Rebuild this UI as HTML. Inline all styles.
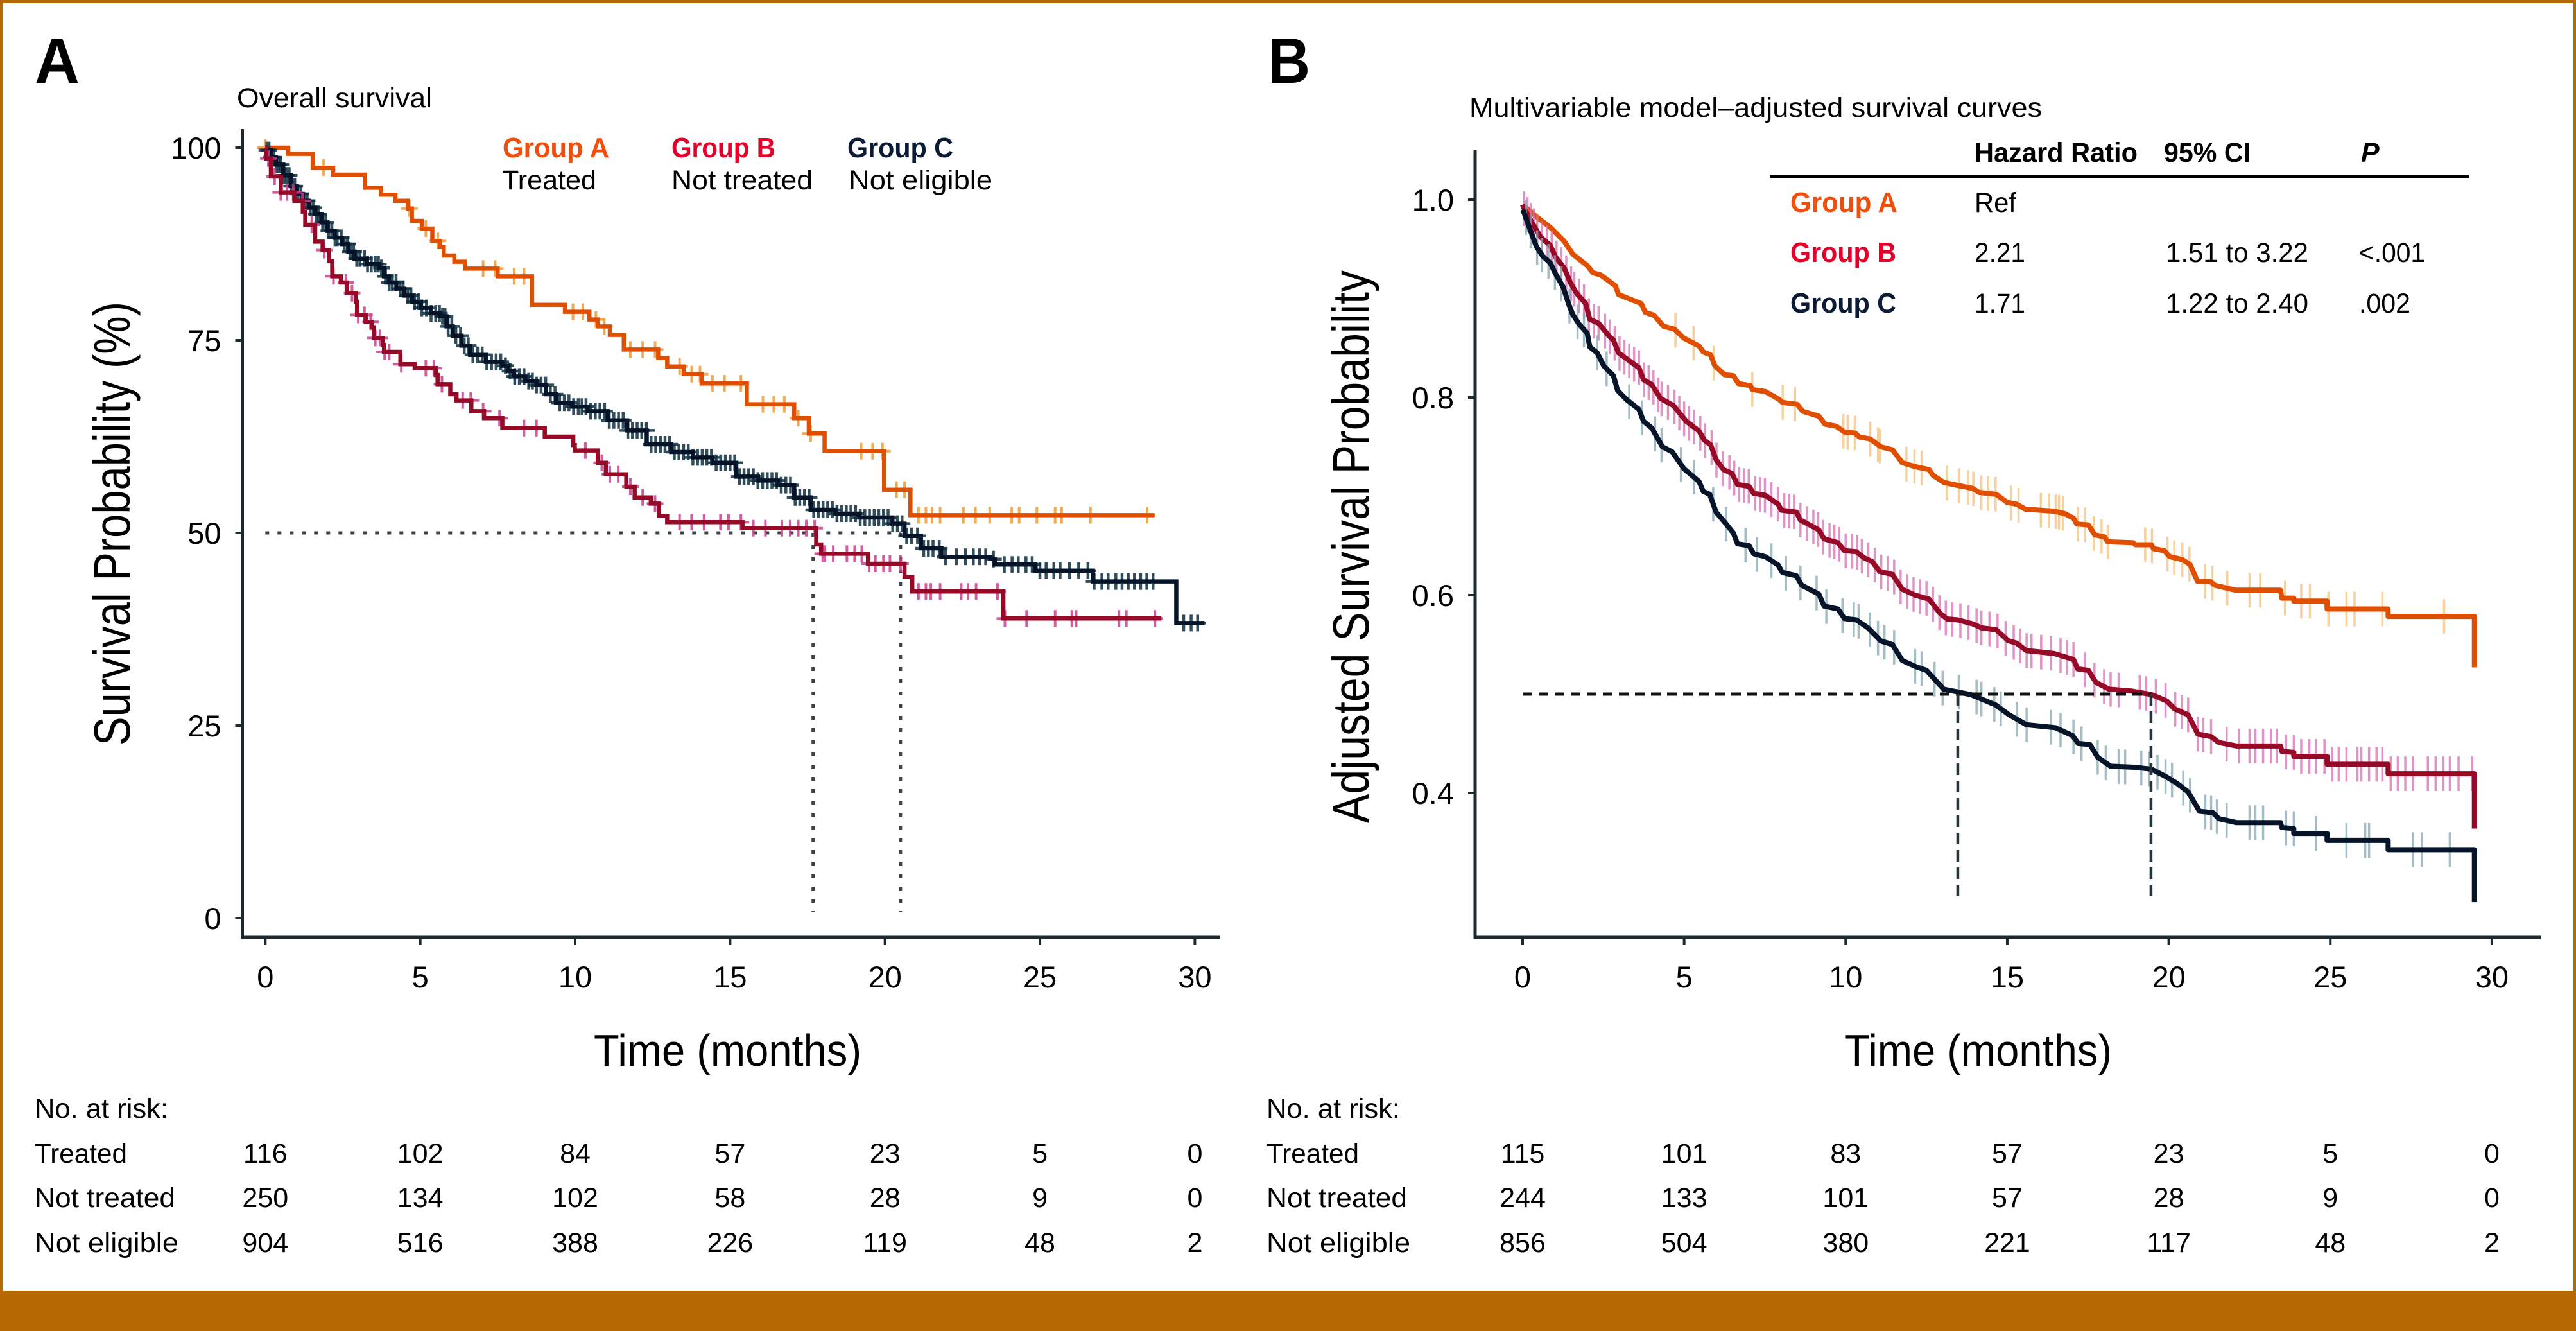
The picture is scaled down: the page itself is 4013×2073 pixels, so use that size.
<!DOCTYPE html>
<html lang="en">
<head>
<meta charset="utf-8">
<title>Survival curves</title>
<style>
html,body{margin:0;padding:0;background:#fff;}
svg{display:block;}
text{font-family:"Liberation Sans",sans-serif;fill:#000;}
.b{font-weight:bold;}
.s{font-size:43px;}
.g{font-size:44px;font-weight:bold;}
</style>
</head>
<body>
<svg id="figure" xmlns="http://www.w3.org/2000/svg" width="4013" height="2073" viewBox="0 0 4013 2073">
<rect x="0" y="0" width="4013" height="2073" fill="#b46a00"/>
<rect x="4" y="5" width="4005" height="2005" fill="#ffffff"/>

<text class="b" x="54" y="129" font-size="100" textLength="70" lengthAdjust="spacingAndGlyphs">A</text>
<text class="b" x="1975" y="129" font-size="100" textLength="66" lengthAdjust="spacingAndGlyphs">B</text>

<text class="s" x="369" y="167" textLength="304" lengthAdjust="spacingAndGlyphs">Overall survival</text>
<text class="s" x="2289" y="182" textLength="892" lengthAdjust="spacingAndGlyphs">Multivariable model–adjusted survival curves</text>

<text class="g" x="783" y="245" fill="#f04e0a" style="fill:#f04e0a" textLength="166" lengthAdjust="spacingAndGlyphs">Group A</text>
<text class="s" x="782" y="295" textLength="147" lengthAdjust="spacingAndGlyphs">Treated</text>
<text class="g" x="1046" y="245" style="fill:#e4002b" textLength="162" lengthAdjust="spacingAndGlyphs">Group B</text>
<text class="s" x="1046" y="295" textLength="220" lengthAdjust="spacingAndGlyphs">Not treated</text>
<text class="g" x="1320" y="245" style="fill:#0b1a35" textLength="165" lengthAdjust="spacingAndGlyphs">Group C</text>
<text class="s" x="1322" y="295" textLength="224" lengthAdjust="spacingAndGlyphs">Not eligible</text>

<text font-size="80" transform="translate(202,1161) rotate(-90)" textLength="691" lengthAdjust="spacingAndGlyphs">Survival Probability (%)</text>
<text font-size="80" transform="translate(2132,1282) rotate(-90)" textLength="861" lengthAdjust="spacingAndGlyphs">Adjusted Survival Probability</text>
<text font-size="70" x="925" y="1660" textLength="417" lengthAdjust="spacingAndGlyphs">Time (months)</text>
<text font-size="70" x="2873" y="1660" textLength="417" lengthAdjust="spacingAndGlyphs">Time (months)</text>

<text class="s b" x="3076" y="252" textLength="254" lengthAdjust="spacingAndGlyphs">Hazard Ratio</text>
<text class="s b" x="3371" y="252" textLength="135" lengthAdjust="spacingAndGlyphs">95% CI</text>
<text class="s b" font-style="italic" x="3678" y="252">P</text>
<rect x="2757" y="272.5" width="1089" height="5" fill="#000"/>
<text class="g" x="2789" y="330" style="fill:#f04e0a" textLength="167" lengthAdjust="spacingAndGlyphs">Group A</text>
<text class="s" x="3076" y="330" textLength="65" lengthAdjust="spacingAndGlyphs">Ref</text>
<text class="g" x="2789" y="408" style="fill:#e4002b" textLength="165" lengthAdjust="spacingAndGlyphs">Group B</text>
<text class="s" x="3076" y="408" textLength="79" lengthAdjust="spacingAndGlyphs">2.21</text>
<text class="s" x="3374" y="408" textLength="222" lengthAdjust="spacingAndGlyphs">1.51 to 3.22</text>
<text class="s" x="3675" y="408" textLength="103" lengthAdjust="spacingAndGlyphs">&lt;.001</text>
<text class="g" x="2789" y="487" style="fill:#0b1a35" textLength="165" lengthAdjust="spacingAndGlyphs">Group C</text>
<text class="s" x="3076" y="487" textLength="79" lengthAdjust="spacingAndGlyphs">1.71</text>
<text class="s" x="3374" y="487" textLength="222" lengthAdjust="spacingAndGlyphs">1.22 to 2.40</text>
<text class="s" x="3675" y="487" textLength="80" lengthAdjust="spacingAndGlyphs">.002</text>

<text class="s" x="54" y="1741" textLength="208" lengthAdjust="spacingAndGlyphs">No. at risk:</text>
<text class="s" x="54" y="1811" textLength="144" lengthAdjust="spacingAndGlyphs">Treated</text>
<text class="s" x="54" y="1880" textLength="219" lengthAdjust="spacingAndGlyphs">Not treated</text>
<text class="s" x="54" y="1950" textLength="224" lengthAdjust="spacingAndGlyphs">Not eligible</text>
<text class="s" x="1973" y="1741" textLength="208" lengthAdjust="spacingAndGlyphs">No. at risk:</text>
<text class="s" x="1973" y="1811" textLength="144" lengthAdjust="spacingAndGlyphs">Treated</text>
<text class="s" x="1973" y="1880" textLength="219" lengthAdjust="spacingAndGlyphs">Not treated</text>
<text class="s" x="1973" y="1950" textLength="224" lengthAdjust="spacingAndGlyphs">Not eligible</text>

<g id="chart-a"></g>
<g id="chart-b"></g>
</svg>

<script>
// ---------- shared categories ----------
const timeTicks = [0, 5, 10, 15, 20, 25, 30];
const survivalTicks = [0, 25, 50, 75, 100];
const adjustedTicks = [0.4, 0.6, 0.8, 1.0];

// ---------- panel A: Kaplan-Meier steps (month, survival %) ----------
const kmTimesA = [0.74,1.53,2.19,3.22,3.73,4.2,4.6,4.73,5.05,5.39,5.63,5.76,6.1,6.45,7.5,8.61,9.67,10.46,10.73,11.12,11.57,12.68,12.97,13.5,14.08,15.54,17.07,17.54,18.05,19.97,20.82];
const kmSurvA = [99.2,97.4,96.5,94.8,93.9,93.1,92.1,90.5,89.5,87.9,87.1,86.0,85.2,84.3,83.3,79.6,78.7,77.7,76.8,75.7,73.8,72.7,71.6,70.6,69.4,66.7,64.9,62.9,60.6,55.6,52.3];
const kmEndA = 28.7;
const kmCensorA = [0,1.88,4.65,5.18,5.57,7.03,7.42,8.03,8.35,9.93,10.25,10.67,10.94,11.78,12.18,12.58,13.37,13.76,14.03,14.43,14.82,15.35,16.06,16.41,16.75,17.2,17.6,19.23,19.6,19.92,20.37,20.63,21.08,21.32,21.52,21.78,22.53,22.92,23.38,24.09,24.33,24.9,25.49,25.7,26.63,28.46];

const kmTimesB = [0.02,0.18,0.5,0.94,1.21,1.29,1.61,1.85,2.05,2.16,2.44,2.64,2.92,2.96,3.24,3.43,3.51,3.79,3.83,4.36,4.82,5.5,5.56,5.97,6.17,6.65,7.06,7.65,9.02,9.94,9.99,10.73,10.99,11.65,11.92,12.44,12.71,12.97,15.4,17.78,17.94,19.45,20.63,20.88,23.82];
const kmSurvB = [98.6,96.25,94.2,93.1,91.7,90,87.8,86.7,85.3,83.3,82.5,81.1,80,78.3,77.4,76.7,75.3,74.4,73.5,71.9,71.4,70.5,69.3,68,67.2,65.8,64.9,63.6,62.5,61.4,60.7,59.1,57.6,56,54.6,53.8,52.2,51.4,50.6,48.5,47.3,46,44.3,42.4,38.9];
const kmEndB = 28.92;
const kmCensorB = [0.1,0.3,0.5,0.7,0.9,1.2,1.5,1.9,2.2,2.6,2.8,3.0,3.2,3.4,3.55,3.7,3.85,4.0,4.39,5.18,5.44,5.7,6.37,6.63,7.03,7.56,8.35,8.75,10.33,10.86,11.12,11.39,11.78,12.18,12.58,13.37,13.76,14.16,14.69,14.95,15.35,15.75,16.14,16.67,16.94,17.2,17.46,17.73,17.99,18.06,18.33,18.77,19.02,19.25,19.49,19.69,19.95,20.16,20.5,21.08,21.32,21.48,21.78,22.46,22.68,22.94,23.63,23.87,24.57,25.49,26.03,26.17,27.55,27.79,28.71];

const kmTimesC = [0.02,0.18,0.34,0.58,0.82,1.02,1.21,1.41,1.61,1.81,2.01,2.24,2.48,2.68,2.88,3.28,3.67,3.83,3.99,4.23,4.47,4.74,5.02,5.34,5.65,5.85,6.05,6.33,6.61,7.12,7.64,7.83,8.03,8.39,8.75,9.06,9.38,9.9,10.41,11.05,11.68,12.31,13.1,13.8,14.43,15.2,15.9,16.54,17.07,17.6,18.4,19.18,20.24,20.63,21.16,21.82,23.4,23.54,24.86,26.71,29.4];
const kmSurvC = [99.7,98.75,97.8,96.4,95,94,93.1,92.2,91.4,90.3,89.2,88.3,87.5,86.5,85.6,84.9,84.4,83.3,82.5,81.7,80.8,80,79.2,78.5,78.1,76.8,75.6,74.3,73.1,72.2,71.7,71,70.3,69.7,69.2,68,66.9,66.4,65.8,64.6,63.3,61.5,60.5,59.8,59.1,57.3,56.8,56.2,54.6,53,52.5,52,51.2,49.6,48,46.9,46.6,45.9,45.1,43.7,38.3];
const kmEndC = 30.31;
const kmCensorC = [0.05,0.12,0.2,0.28,0.35,0.43,0.5,0.6,0.68,0.77,0.85,0.95,1.05,1.15,1.25,1.35,1.45,1.55,1.65,1.72,1.85,1.95,2.05,2.15,2.25,2.32,2.45,2.55,2.65,2.75,2.85,2.95,3.05,3.2,3.3,3.42,3.55,3.65,3.75,3.88,4.0,4.1,4.22,4.35,4.45,4.6,4.7,4.82,4.95,5.05,5.2,5.35,5.5,5.62,5.72,5.8,5.9,6.02,6.15,6.3,6.42,6.55,6.7,6.85,7.0,7.15,7.3,7.45,7.6,7.75,7.9,8.05,8.2,8.35,8.5,8.62,8.75,8.9,9.05,9.2,9.35,9.5,9.65,9.8,9.95,10.1,10.22,10.35,10.5,10.65,10.8,10.95,11.1,11.25,11.4,11.55,11.7,11.85,12.0,12.15,12.3,12.45,12.6,12.75,12.9,13.05,13.2,13.35,13.5,13.65,13.8,13.95,14.1,14.25,14.4,14.55,14.7,14.85,15.0,15.15,15.3,15.45,15.6,15.75,15.9,16.05,16.2,16.35,16.5,16.65,16.8,16.95,17.1,17.25,17.4,17.55,17.7,17.85,18.0,18.15,18.3,18.45,18.6,18.75,18.9,19.05,19.2,19.35,19.5,19.65,19.8,19.95,20.1,20.25,20.4,20.55,20.7,20.85,21.05,21.25,21.4,21.55,21.75,21.95,22.3,22.6,22.85,23.05,23.25,23.5,23.85,24.1,24.3,24.55,24.75,25.0,25.2,25.45,25.65,25.95,26.25,26.55,26.75,27.0,27.2,27.45,27.65,27.85,28.05,28.25,28.45,28.65,29.64,29.88,30.09];

const medianRefA = 50;
const medianTimesA = [17.68, 20.5];

// ---------- panel B: adjusted curves (month, probability) ----------
const adjTimesA = [0,0.42,0.89,1.285,1.55,2.01,2.18,2.41,2.87,2.97,3.67,3.8,4.07,4.36,4.7,4.99,5.46,5.59,5.82,5.95,6.25,6.52,6.68,7.05,7.11,7.51,7.94,8.04,8.5,8.67,9.17,9.36,9.7,9.96,10.29,10.42,10.76,11.09,11.45,11.75,12.15,12.58,12.71,13.04,13.47,13.93,14.13,14.66,14.99,15.29,15.56,16.45,16.78,17.05,17.15,17.51,17.71,18.01,18.11,18.9,18.97,19.46,19.53,19.86,20.03,20.42,20.66,20.89,21.28,21.43,22.07,23.46,23.5,23.87,23.87,24.9,24.9,26.79,26.79,29.46,29.46];
const adjProbA = [0.995,0.983,0.971,0.958,0.945,0.933,0.926,0.924,0.913,0.904,0.895,0.886,0.883,0.872,0.869,0.860,0.852,0.846,0.843,0.832,0.823,0.822,0.814,0.812,0.808,0.806,0.798,0.795,0.793,0.786,0.781,0.773,0.771,0.765,0.764,0.760,0.758,0.750,0.747,0.734,0.730,0.727,0.721,0.714,0.711,0.708,0.704,0.702,0.694,0.692,0.687,0.685,0.6825,0.678,0.672,0.671,0.661,0.659,0.654,0.653,0.651,0.651,0.647,0.645,0.639,0.636,0.631,0.614,0.614,0.610,0.605,0.605,0.597,0.597,0.594,0.594,0.586,0.586,0.5785,0.5785,0.527];
const adjCensorA = [4.73,5.29,5.92,7.11,8.05,8.43,9.93,10.06,10.28,10.76,11.0,11.06,11.88,12.13,12.35,13.14,13.5,13.79,13.95,14.2,14.41,14.64,15.11,15.35,16.04,16.29,16.5,16.6,16.73,17.19,17.41,17.68,17.92,18.11,19.27,19.48,19.96,20.17,20.42,20.64,21.12,21.35,21.81,22.5,22.83,23.6,24.1,24.37,24.94,25.5,25.75,26.61,28.52];

const adjTimesB = [0,0.03,0.29,0.56,0.85,1.02,1.285,1.48,1.68,1.95,2.08,2.35,2.68,2.81,2.97,3.6,3.74,4.0,4.27,4.66,5.06,5.46,5.62,5.82,5.99,6.22,6.48,6.65,7.01,7.15,7.51,7.91,8.01,8.47,8.6,9.17,9.33,9.76,9.96,10.33,10.56,10.82,11.05,11.45,11.75,12.15,12.58,12.91,13.14,13.47,13.93,14.2,14.66,15.03,15.29,15.59,16.45,17.05,17.18,17.51,17.74,18.15,18.87,19.47,19.94,20.18,20.6,20.9,21.31,21.55,22.09,23.46,23.5,23.87,23.87,24.9,24.9,26.79,26.79,29.46,29.46];
const adjProbB = [0.995,0.992,0.977,0.962,0.954,0.942,0.931,0.916,0.905,0.895,0.879,0.875,0.862,0.858,0.845,0.830,0.818,0.813,0.799,0.792,0.776,0.766,0.757,0.752,0.737,0.727,0.723,0.712,0.710,0.703,0.701,0.692,0.686,0.684,0.676,0.666,0.657,0.653,0.645,0.644,0.638,0.634,0.624,0.621,0.606,0.600,0.596,0.582,0.576,0.575,0.571,0.567,0.565,0.554,0.5515,0.544,0.541,0.535,0.5255,0.524,0.512,0.505,0.503,0.4995,0.493,0.485,0.479,0.4595,0.457,0.451,0.4475,0.4475,0.442,0.441,0.437,0.437,0.429,0.429,0.4194,0.4194,0.364];
const adjCensorB = [0.05,0.15,0.25,0.35,0.45,0.6,0.75,0.9,1.05,1.2,1.35,1.5,1.6,1.75,1.9,2.05,2.2,2.35,2.55,2.7,2.85,3.0,3.15,3.3,3.45,3.6,3.75,3.9,4.05,4.2,4.3,4.5,4.7,4.85,5.0,5.15,5.3,5.5,5.65,5.85,6.0,6.2,6.4,6.55,6.7,6.85,7.0,7.2,7.35,7.5,7.7,7.9,8.1,8.25,8.4,8.6,8.8,9.0,9.15,9.3,9.5,9.65,9.8,10.0,10.2,10.35,10.5,10.7,10.9,11.1,11.3,11.5,11.7,11.9,12.1,12.3,12.5,12.7,12.9,13.1,13.3,13.55,13.8,14.05,14.2,14.45,14.7,14.95,15.2,15.4,15.6,15.75,16.05,16.35,16.65,16.85,17.05,17.4,17.7,18.0,18.2,18.45,19.1,19.3,19.6,19.9,20.2,20.4,20.6,20.9,21.07,21.31,21.79,22.18,22.5,22.68,22.92,23.16,23.34,23.63,23.87,24.1,24.35,24.56,24.82,25.06,25.26,25.5,25.84,25.96,26.2,26.43,26.61,26.87,27.09,27.32,27.56,28.02,28.26,28.5,28.7,28.97,29.39];
const adjMedianRef = 0.5;
const adjMedianTimes = [13.47, 19.45];

const adjTimesC = [0,0.03,0.23,0.42,0.62,0.855,1.02,1.25,1.42,1.55,1.75,2.0,2.08,2.31,2.51,2.81,2.94,3.21,3.6,3.74,4.0,4.33,4.63,4.99,5.46,5.59,5.79,5.99,6.3,6.52,6.65,7.01,7.15,7.51,7.91,8.04,8.47,8.64,9.17,9.33,9.76,9.96,10.33,10.69,11.09,11.45,11.75,12.15,12.5,13.03,13.87,14.64,15.06,15.59,16.49,17.02,17.2,17.56,17.8,18.2,18.93,19.47,19.94,20.24,20.6,20.95,21.37,21.55,22.09,23.46,23.5,23.87,23.87,24.9,24.9,26.79,26.79,29.46,29.46];
const adjProbC = [0.99,0.988,0.970,0.953,0.943,0.936,0.925,0.912,0.895,0.884,0.874,0.865,0.851,0.845,0.832,0.822,0.807,0.798,0.788,0.776,0.769,0.750,0.745,0.728,0.715,0.705,0.702,0.684,0.672,0.663,0.652,0.650,0.642,0.639,0.6305,0.623,0.6197,0.610,0.601,0.589,0.586,0.5764,0.575,0.567,0.5537,0.550,0.534,0.528,0.524,0.505,0.4995,0.489,0.479,0.469,0.466,0.458,0.450,0.449,0.436,0.427,0.426,0.424,0.416,0.410,0.401,0.3815,0.380,0.374,0.370,0.370,0.365,0.364,0.359,0.359,0.352,0.352,0.3426,0.3426,0.2895];
const adjCensorC = [0.1,0.25,0.45,0.6,0.8,1.0,1.2,1.45,1.7,1.9,2.3,2.6,3.3,3.7,4.1,4.3,4.9,5.3,5.9,6.3,6.9,7.25,7.7,8.15,8.6,9.1,9.4,9.9,10.25,10.4,10.75,11.0,11.2,11.5,12.15,12.35,12.75,13.0,13.5,14.05,14.2,14.6,14.8,15.3,15.6,16.35,16.65,17.05,17.3,17.8,18.05,18.45,18.65,19.15,19.4,19.65,19.9,20.1,20.45,20.66,21.13,21.31,21.49,21.79,22.5,22.68,22.92,23.63,23.87,24.56,25.5,26.08,26.2,27.56,27.83,28.7];

// ---------- at-risk tables ----------
const riskATreated = [116,102,84,57,23,5,0];
const riskANotTreated = [250,134,102,58,28,9,0];
const riskANotEligible = [904,516,388,226,119,48,2];
const riskBTreated = [115,101,83,57,23,5,0];
const riskBNotTreated = [244,133,101,57,28,9,0];
const riskBNotEligible = [856,504,380,221,117,48,2];

// ---------- axis functions ----------
const xA = t => 413.3 + 48.27 * t;
const yA = v => 1430 - 12 * v;
const xB = t => 2372 + 50.33 * t;
const yB = v => 311 + (1 - v) * 1540;

const NS = 'http://www.w3.org/2000/svg';
function mk(parent, tag, attrs, txt) {
  const el = document.createElementNS(NS, tag);
  for (const k in attrs) el.setAttribute(k, attrs[k]);
  if (txt !== undefined) el.textContent = txt;
  parent.appendChild(el);
  return el;
}
const chartA = document.getElementById('chart-a');
const chartB = document.getElementById('chart-b');
const AXIS = '#1c2a30';

function drawAxes(g, x, y, xt, yt, left, top, bottom, right, prefix, fmt) {
  let el = mk(g, 'rect', {x: left - 2.5, y: top, width: 5, height: bottom - top + 2.5, fill: AXIS});
  
  
  el = mk(g, 'rect', {x: left - 2.5, y: bottom - 2.5, width: right - left + 2.5, height: 5, fill: AXIS});
  
  
  xt.forEach(t => {
    let m = mk(g, 'rect', {x: x(t) - 2, y: bottom, width: 4, height: 12, fill: AXIS});
    
    
    let l = mk(g, 'text', {x: x(t), y: 1538, 'font-size': 47, 'text-anchor': 'middle'}, String(t));
    
    
  });
  yt.forEach(v => {
    let m = mk(g, 'rect', {x: left - 11, y: y(v) - 2, width: 11, height: 4, fill: AXIS});
    
    
    let l = mk(g, 'text', {x: left - 33, y: y(v) + 17, 'font-size': 47, 'text-anchor': 'end'}, fmt(v));
    
    
  });
}

function stepValue(times, vals, start, t) {
  let v = start;
  for (let i = 0; i < times.length; i++) { if (times[i] <= t) v = vals[i]; else break; }
  return v;
}
function drawKM(times, vals, end, censors, color, tickColor, tickWidth, name) {
  const grp = mk(chartA, 'g', {});
  
  
  let d = 'M' + xA(0) + ' ' + yA(100);
  times.forEach((t, i) => { d += 'H' + xA(t) + 'V' + yA(vals[i]); });
  d += 'H' + xA(end);
  censors.forEach(t => {
    const v = stepValue(times, vals, 100, t);
    const cx = xA(t), cy = yA(v);
    const c = mk(grp, 'path', {d: 'M' + cx + ' ' + (cy - 13) + 'V' + (cy + 13) + 'M' + (cx - 13) + ' ' + cy + 'H' + (cx + 13), stroke: tickColor, 'stroke-width': tickWidth, fill: 'none', opacity: 0.85});
    
    
  });
  const p = mk(grp, 'path', {d: d, fill: 'none', stroke: color, 'stroke-width': 6.5, 'stroke-linejoin': 'miter'});
  
  
}
function lerpValue(times, vals, t) {
  for (let i = 1; i < times.length; i++) {
    if (t <= times[i]) {
      const a = times[i - 1], b = times[i];
      return b === a ? vals[i] : vals[i - 1] + (vals[i] - vals[i - 1]) * (t - a) / (b - a);
    }
  }
  return vals[vals.length - 1];
}
function drawAdj(times, vals, censors, color, tickColor, name) {
  const grp = mk(chartB, 'g', {});
  
  
  censors.forEach(t => {
    const cy = yB(lerpValue(times, vals, t));
    const c = mk(grp, 'line', {x1: xB(t), x2: xB(t), y1: cy - 27, y2: cy + 27, stroke: tickColor, 'stroke-width': 3.5, opacity: 0.75});
    
    
  });
  let d = '';
  times.forEach((t, i) => { d += (i ? 'L' : 'M') + xB(t) + ' ' + yB(vals[i]); });
  const p = mk(grp, 'path', {d: d, fill: 'none', stroke: color, 'stroke-width': 8, 'stroke-linejoin': 'round'});
  
  
}
function drawRisk(values, x, y, name) {
  values.forEach((n, i) => {
    const l = mk(document.getElementById('figure'), 'text', {x: x(timeTicks[i]), y: y, 'font-size': 43, 'text-anchor': 'middle'}, String(n));
    
    
  });
}

// ---------- panel A ----------
drawAxes(chartA, xA, yA, timeTicks, survivalTicks, 377.5, 201, 1460, 1900, 'panel-a', v => String(v));
let ref = mk(chartA, 'path', {
  d: 'M' + xA(0) + ' ' + yA(medianRefA) + 'H' + xA(medianTimesA[1]) +
     'M' + xA(medianTimesA[0]) + ' ' + yA(medianRefA) + 'V1421' +
     'M' + xA(medianTimesA[1]) + ' ' + yA(medianRefA) + 'V1421',
  fill: 'none', stroke: '#3a4448', 'stroke-width': 5, 'stroke-dasharray': '6 13'});


drawKM(kmTimesA, kmSurvA, kmEndA, kmCensorA, '#e04e00', '#ee9a35', 4, 'panel-a-group-a');
drawKM(kmTimesC, kmSurvC, kmEndC, kmCensorC, '#06142a', '#0e2f40', 4.5, 'panel-a-group-c');
drawKM(kmTimesB, kmSurvB, kmEndB, kmCensorB, '#960a28', '#c93f8e', 4, 'panel-a-group-b');

// ---------- panel B ----------
drawAxes(chartB, xB, yB, timeTicks, adjustedTicks, 2298, 234, 1460, 3958, 'panel-b', v => v.toFixed(1));
drawAdj(adjTimesA, adjProbA, adjCensorA, '#e04e00', '#f3c27f', 'panel-b-group-a');
drawAdj(adjTimesB, adjProbB, adjCensorB, '#960a28', '#d870b4', 'panel-b-group-b');
drawAdj(adjTimesC, adjProbC, adjCensorC, '#06142a', '#86a8b2', 'panel-b-group-c');
let refB = mk(chartB, 'path', {
  d: 'M' + xB(0) + ' ' + yB(adjMedianRef) + 'H' + xB(adjMedianTimes[1]),
  fill: 'none', stroke: '#111', 'stroke-width': 5, 'stroke-dasharray': '15 10'});


let refB2 = mk(chartB, 'path', {
  d: 'M' + xB(adjMedianTimes[0]) + ' ' + yB(adjMedianRef) + 'V1405M' + xB(adjMedianTimes[1]) + ' ' + yB(adjMedianRef) + 'V1405',
  fill: 'none', stroke: '#26343a', 'stroke-width': 4.5, 'stroke-dasharray': '18 9'});



// ---------- at-risk numbers ----------
drawRisk(riskATreated, xA, 1811, 'risk-a-treated-count');
drawRisk(riskANotTreated, xA, 1880, 'risk-a-not-treated-count');
drawRisk(riskANotEligible, xA, 1950, 'risk-a-not-eligible-count');
drawRisk(riskBTreated, xB, 1811, 'risk-b-treated-count');
drawRisk(riskBNotTreated, xB, 1880, 'risk-b-not-treated-count');
drawRisk(riskBNotEligible, xB, 1950, 'risk-b-not-eligible-count');
</script>
</body>
</html>
